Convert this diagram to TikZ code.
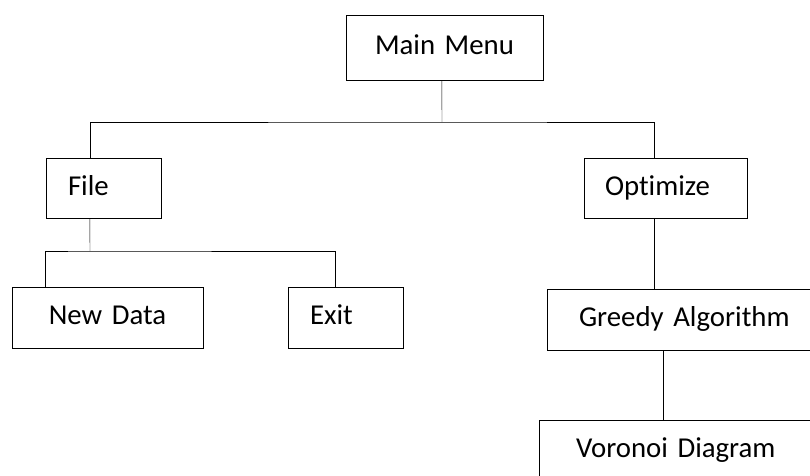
\documentclass[tikz,border=0pt]{standalone}
\usepackage{fontspec}
\setmainfont{Carlito}[Ligatures=NoCommon]
\usepackage{tikz}
\tikzset{
	x=1pt, y=-1pt,
	line width=2.4pt,
	menu/.style={draw, inner ysep=0pt, minimum height=60, text height=20, text depth=6, font=\fontsize{28.8}{34}\selectfont},
	leftbox/.style={menu, align=left},
	midbox/.style={menu, align=center},
}

\begin{document}
\begin{tikzpicture}
      \clip (0,0) rectangle (810,475);
      \node[midbox, inner xsep=0pt, text width=197, minimum height=65] (main) at (444.5,47.5) {Main Menu};
      \node[leftbox, inner xsep=22, text width=71] (file) at (103.5,188) {File};
      \node[leftbox, inner xsep=21, text width=121] (opt) at (665.5,188) {Optimize};
      \node[midbox, inner xsep=0pt, text width=191, minimum height=61] (newdata) at (107.5,317.5) {New Data};
      \node[leftbox, inner xsep=22, text width=71, minimum height=61] (exit) at (345.5,317.5) {Exit};
      \node[leftbox, inner xsep=32, text width=236, minimum height=61] (greedy) at (697,319.5) {Greedy Algorithm};
      \node[leftbox, inner xsep=37, text width=226, minimum height=61] (voronoi) at (689,450.5) {Voronoi Diagram};
      
      \coordinate (topbus) at (442,122);
      \coordinate (filebus) at (90,251);
      
      \draw ([xshift=96]main.south west) -- (topbus);
      \draw ([xshift=44]file.north west) |- (topbus) -| ([xshift=70]opt.north west);
      \draw ([xshift=44]file.south west) -- (filebus);
      \draw ([xshift=33]newdata.north west) |- (filebus) -| ([xshift=47]exit.north west);
      \draw ([xshift=70]opt.south west) -- ([xshift=107]greedy.north west);
      \draw ([xshift=116]greedy.south west) -- ([xshift=124]voronoi.north west);
    \end{tikzpicture}
\end{document}
